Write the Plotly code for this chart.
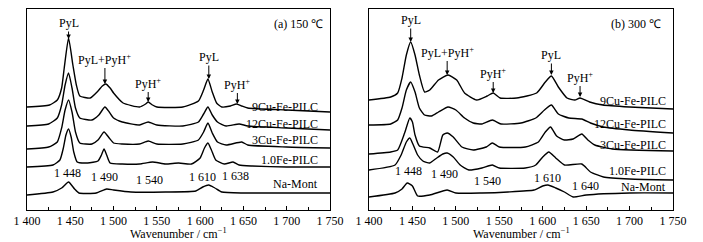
import plotly.graph_objects as go
from plotly.subplots import make_subplots

# ---------------- data (absorbance, offset spectra, a.u.) ----------------
# Panel (a) 150 C
a_9cu_w = [1400,1426,1435,1440,1443,1448,1453,1457,1461,1473,1482,1487,1491,1496,1500,1511,1530,1537,1540,1545,1550,1580,1598,1604,1609,1614,1619,1625,1635,1642,1648,1655,1700,1750]
a_9cu_y = [103,105,110,122,142,172,145,125,114,112,119,124,126,122,117,107,103,106,108,105,103,103,109,120,131,118,107,103,104,106,104,102,100,98]

a_12cu_w = [1400,1425,1435,1440,1444,1448,1452,1456,1461,1475,1483,1490,1495,1500,1510,1530,1540,1550,1580,1598,1604,1609,1614,1620,1630,1645,1655,1700,1750]
a_12cu_y = [84,86,92,105,125,137,122,102,92,90,95,103,98,92,88,85,88,85,84,88,96,103,95,88,84,86,84,82,80]

a_3cu_w = [1400,1425,1435,1440,1444,1448,1452,1456,1461,1475,1482,1489,1495,1500,1510,1530,1540,1550,1580,1598,1604,1609,1614,1620,1630,1648,1655,1700,1750]
a_3cu_y = [61,63,68,82,100,110,98,78,67,66,70,78,72,67,66,66,69,66,66,70,78,87,77,68,65,68,65,63,62]

a_fe_w = [1400,1430,1438,1442,1445,1448,1451,1454,1458,1470,1482,1486,1489,1492,1496,1510,1530,1545,1560,1575,1590,1600,1605,1609,1613,1618,1628,1638,1645,1660,1700,1750]
a_fe_y = [43,45,50,62,75,81,73,58,48,47,49,55,61,55,47,46,46,48,46,47,46,52,62,67,60,50,46,48,45,44,43,43]

a_na_w = [1400,1430,1440,1448,1455,1460,1480,1492,1500,1520,1560,1595,1603,1610,1617,1625,1650,1700,1750]
a_na_y = [15,18,22,28,21,17,17,21,20,18,18,19,23,25,22,18,17,17,17]

# Panel (b) 300 C
b_9cu_w = [1400,1425,1433,1438,1443,1448,1453,1458,1464,1470,1480,1491,1501,1510,1524,1536,1543,1551,1570,1593,1603,1610,1618,1628,1637,1643,1654,1669,1700,1750]
b_9cu_y = [110,113,117,132,155,168,155,135,118,120,130,135,130,117,110,114,117,112,112,117,128,134,123,112,110,112,108,105,103,101]

b_12cu_w = [1400,1425,1433,1438,1443,1448,1453,1458,1464,1472,1480,1491,1500,1510,1520,1530,1542,1552,1575,1592,1602,1610,1618,1630,1645,1655,1670,1700,1750]
b_12cu_y = [85,86,90,102,120,128,118,102,95,94,98,103,100,92,87,86,90,86,87,92,100,105,96,92,91,87,83,80,77]

b_3cu_w = [1400,1425,1433,1441,1447,1450,1453,1458,1470,1479,1485,1490,1497,1507,1520,1535,1542,1550,1580,1595,1603,1609,1616,1625,1635,1645,1652,1660,1680,1750]
b_3cu_y = [56,58,60,77,92,88,75,64,62,58,75,77,73,63,60,63,67,63,63,68,78,83,74,70,71,76,70,65,61,59]

b_fe_w = [1400,1430,1437,1443,1447,1451,1456,1462,1470,1478,1485,1490,1497,1505,1515,1530,1542,1550,1580,1592,1600,1607,1615,1625,1645,1655,1670,1700,1750]
b_fe_y = [40,45,55,68,72,65,55,49,47,52,56,57,53,45,40,42,45,42,42,45,53,58,52,45,46,38,33,31,30]

b_na_w = [1400,1430,1438,1444,1450,1456,1470,1490,1500,1530,1560,1590,1600,1606,1615,1625,1635,1650,1700,1750]
b_na_y = [13,17,21,27,24,14,15,20,17,17,18,20,24,25,22,18,13,15,17,17]

series_names = ["9Cu-Fe-PILC", "12Cu-Fe-PILC", "3Cu-Fe-PILC", "1.0Fe-PILC", "Na-Mont"]
panel_a = [(a_9cu_w, a_9cu_y), (a_12cu_w, a_12cu_y), (a_3cu_w, a_3cu_y), (a_fe_w, a_fe_y), (a_na_w, a_na_y)]
panel_b = [(b_9cu_w, b_9cu_y), (b_12cu_w, b_12cu_y), (b_3cu_w, b_3cu_y), (b_fe_w, b_fe_y), (b_na_w, b_na_y)]

# series label levels
a_label_y = [103, 86, 70, 50, 26]
b_label_y = [109, 86, 65, 39, 23]

# band assignments with arrows: (text, wavenumber, tip level, offset)
a_bands = [("PyL", 1448, 171, -16), ("PyL+PyH<sup>+</sup>", 1490, 126, -25),
           ("PyH<sup>+</sup>", 1540, 108, -19), ("PyL", 1610, 131, -22),
           ("PyH<sup>+</sup>", 1643, 106, -20)]
b_bands = [("PyL", 1448, 168, -22), ("PyL+PyH<sup>+</sup>", 1490, 135, -23),
           ("PyH<sup>+</sup>", 1543, 117, -20), ("PyL", 1610, 135, -20),
           ("PyH<sup>+</sup>", 1643, 113, -20)]

# peak position numbers: (text, wavenumber, level)
a_nums = [("1 448", 1447, 37), ("1 490", 1489, 33), ("1 540", 1542, 30),
          ("1 610", 1603, 33), ("1 638", 1641, 34)]
b_nums = [("1 448", 1445, 39), ("1 490", 1487, 36), ("1 540", 1537, 29),
          ("1 610", 1606, 32), ("1 640", 1649, 24)]

tick_vals = [1400, 1450, 1500, 1550, 1600, 1650, 1700, 1750]
tick_text = ["1 400", "1 450", "1 500", "1 550", "1 600", "1 650", "1 700", "1 750"]
minor_vals = [1425, 1475, 1525, 1575, 1625, 1675, 1725]
x_title = "Wavenumber / cm<sup>−1</sup>"

FONT = "Liberation Serif, Times New Roman, serif"

fig = make_subplots(rows=1, cols=2)

for col, panel in ((1, panel_a), (2, panel_b)):
    for name, (w, y) in zip(series_names, panel):
        fig.add_trace(go.Scatter(x=w, y=y, mode="lines", name=name,
                                 line=dict(color="black", width=1.4, shape="spline", smoothing=0.5),
                                 showlegend=False, hoverinfo="skip"), row=1, col=col)

annotations = []
for xref, yref, labels_y, right_w, bands, nums, title, title_w in (
        ("x", "y", a_label_y, 1739, a_bands, a_nums, "(a) 150 ℃", 1744),
        ("x2", "y2", b_label_y, 1744, b_bands, b_nums, "(b) 300 ℃", 1738)):
    for name, ly in zip(series_names, labels_y):
        annotations.append(dict(x=right_w, y=ly, xref=xref, yref=yref, text=name,
                                showarrow=False, xanchor="right", yanchor="middle",
                                font=dict(family=FONT, size=12, color="black")))
    for txt, w, tip, off in bands:
        annotations.append(dict(x=w, y=tip, xref=xref, yref=yref, text=txt,
                                showarrow=True, arrowhead=2, arrowsize=0.9, arrowwidth=1,
                                arrowcolor="black", ax=0, ay=off, standoff=0,
                                font=dict(family=FONT, size=12, color="black")))
    for txt, w, lv in nums:
        annotations.append(dict(x=w, y=lv, xref=xref, yref=yref, text=txt,
                                showarrow=False, xanchor="center", yanchor="middle",
                                font=dict(family=FONT, size=12, color="black")))
    annotations.append(dict(x=title_w, y=186, xref=xref, yref=yref, text=title,
                            showarrow=False, xanchor="right", yanchor="middle",
                            font=dict(family=FONT, size=12, color="black")))
    # axis title
    annotations.append(dict(x=1575, y=-0.115, xref=xref, yref="paper", text=x_title,
                            showarrow=False, xanchor="center", yanchor="middle",
                            font=dict(family=FONT, size=12, color="black")))

xaxis_common = dict(range=[1400, 1750], tickvals=tick_vals, ticktext=tick_text,
                    ticks="inside", ticklen=4, tickwidth=1, tickcolor="black",
                    minor=dict(tickvals=minor_vals, ticks="inside", ticklen=3, tickcolor="black"),
                    showline=True, linecolor="black", linewidth=1, mirror=True,
                    showgrid=False, zeroline=False, automargin=False,
                    tickfont=dict(family=FONT, size=12, color="black"))
yaxis_common = dict(range=[0, 201], showticklabels=False, ticks="", showgrid=False,
                    automargin=False,
                    zeroline=False, showline=True, linecolor="black", linewidth=1, mirror=True)

fig.update_layout(
    width=703, height=242, margin=dict(l=0, r=0, t=9, b=32, autoexpand=False),
    paper_bgcolor="white", plot_bgcolor="white",
    xaxis=dict(domain=[27/703, 330/703], **xaxis_common),
    xaxis2=dict(domain=[369/703, 673/703], **xaxis_common),
    yaxis=dict(domain=[0, 1], **yaxis_common),
    yaxis2=dict(domain=[0, 1], **yaxis_common),
    annotations=annotations,
    font=dict(family=FONT, size=12, color="black"),
)

fig.write_html("out.html", config={"displayModeBar": False},
               post_script="document.body.style.margin='0';document.body.style.overflow='hidden';")
